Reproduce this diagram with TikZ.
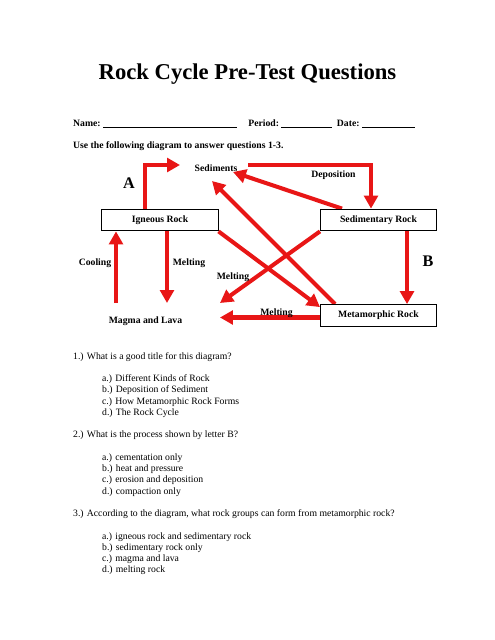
\documentclass[tikz,border=0pt]{standalone}
\usepackage{fontspec}
\setmainfont{Liberation Serif}
\usetikzlibrary{arrows.meta,calc,backgrounds}
\definecolor{rockred}{RGB}{232,22,22}
\newcommand{\labfont}{\fontsize{12}{14}\selectfont\bfseries}
\newcommand{\bodyfont}{\fontsize{12}{14}\selectfont}

\begin{document}
\begin{tikzpicture}[
        x=1.2364pt, y=-1.2364pt,
        rock/.style={draw, line width=1.2pt, fill=white, inner sep=0pt,
                     minimum width=143.5pt, minimum height=27pt, font=\labfont},
        lbl/.style={font=\labfont, inner sep=0pt, anchor=base},
        big/.style={font=\fontsize{20}{24}\selectfont\bfseries, inner sep=0pt, anchor=base},
        txt/.style={font=\bodyfont, inner sep=0pt, anchor=base west},
        arrow/.style={-{Triangle[length=16pt,width=17pt]}, line width=5pt,
                      draw=rockred, line join=miter}
    ]
        \useasboundingbox (0,0) rectangle (495,640);

        % header
        \node[font=\fontsize{28}{32}\selectfont\bfseries, inner sep=0pt, anchor=base]
            (title) at (247.5,79.5) {Rock Cycle Pre-Test Questions};
        \node[txt, font=\labfont] (namerow) at (73,127)
            {Name:~\rule[-1.2pt]{166pt}{0.7pt}\hspace{13.6pt}Period:~\rule[-1.2pt]{63pt}{0.7pt}\hspace{5.6pt}Date:~\rule[-1.2pt]{65pt}{0.7pt}};
        \node[txt, font=\labfont] (intro) at (73,149)
            {Use the following diagram to answer questions 1-3.};

        % rock boxes
        \node[rock] (igneous) at (160,220) {Igneous Rock};
        \node[rock] (sedimentary) at (378.5,220) {Sedimentary Rock};
        \node[rock] (metamorphic) at (378.5,315.5) {Metamorphic Rock};

        % process labels
        \node[lbl] (sediments) at (216,171) {Sediments};
        \node[lbl] (deposition) at (333.5,177.5) {Deposition};
        \node[big] (letterA) at (129,188.5) {A};
        \node[big] (letterB) at (428,266.4) {B};
        \node[lbl] (cooling) at (95,265.5) {Cooling};
        \node[lbl] (meltLeft) at (189,265.5) {Melting};
        \node[lbl] (meltMid) at (233,279.5) {Melting};
        \node[lbl] (meltLow) at (276.5,315.5) {Melting};
        \node[lbl] (magma) at (145.5,323.5) {Magma and Lava};

        % free arrow ends
        \coordinate (aCorner) at (145,165);
        \coordinate (aTip) at (180,165);
        \coordinate (depStart) at (248,165);
        \coordinate (depDrop) at (371,165);
        \coordinate (sedTip) at (233,172);
        \coordinate (metTip) at (212,181);
        \coordinate (coolTail) at (116,303);
        \coordinate (meltTip) at (167,303);
        \coordinate (magTipA) at (220,303);
        \coordinate (magTipB) at (220,317.5);

        \begin{pgfonlayer}{background}
        \draw[arrow] (aCorner |- igneous.north) -- (aCorner) -- (aTip);
        \draw[arrow] (depStart) -- (depDrop) -- (depDrop |- sedimentary.north);
        \draw[arrow] ($(sedimentary.north west)+(22,0)$) -- (sedTip);
        \draw[arrow] ($(metamorphic.north west)+(15,0)$) -- (metTip);
        \draw[arrow] (coolTail) -- (coolTail |- igneous.south);
        \draw[arrow] (meltTip |- igneous.south) -- (meltTip);
        \draw[arrow] (igneous.south east) -- ($(metamorphic.north west)+(0,3)$);
        \draw[arrow] (sedimentary.south west) -- (magTipA);
        \draw[arrow] (metamorphic.west |- magTipB) -- (magTipB);
        \draw[arrow] ($(sedimentary.south east)+(-30,0)$) -- ($(metamorphic.north east)+(-30,0)$);
        \end{pgfonlayer}

        % questions
        \node[txt] (q1) at (73,359) {1.) What is a good title for this diagram?};
        \foreach \choice [count=\i] in {a.) Different Kinds of Rock, b.) Deposition of Sediment,
                c.) How Metamorphic Rock Forms, d.) The Rock Cycle}
            \node[txt] (q1c\i) at (102,370.25+11.25*\i) {\choice};
        \node[txt] (q2) at (73,437.75) {2.) What is the process shown by letter B?};
        \foreach \choice [count=\i] in {a.) cementation only, b.) heat and pressure,
                c.) erosion and deposition, d.) compaction only}
            \node[txt] (q2c\i) at (102,449+11.25*\i) {\choice};
        \node[txt] (q3) at (73,516.5)
            {3.) According to the diagram, what rock groups can form from metamorphic rock?};
        \foreach \choice [count=\i] in {a.) igneous rock and sedimentary rock, b.) sedimentary rock only,
                c.) magma and lava, d.) melting rock}
            \node[txt] (q3c\i) at (102,527.75+11.25*\i) {\choice};
    \end{tikzpicture}
\end{document}
